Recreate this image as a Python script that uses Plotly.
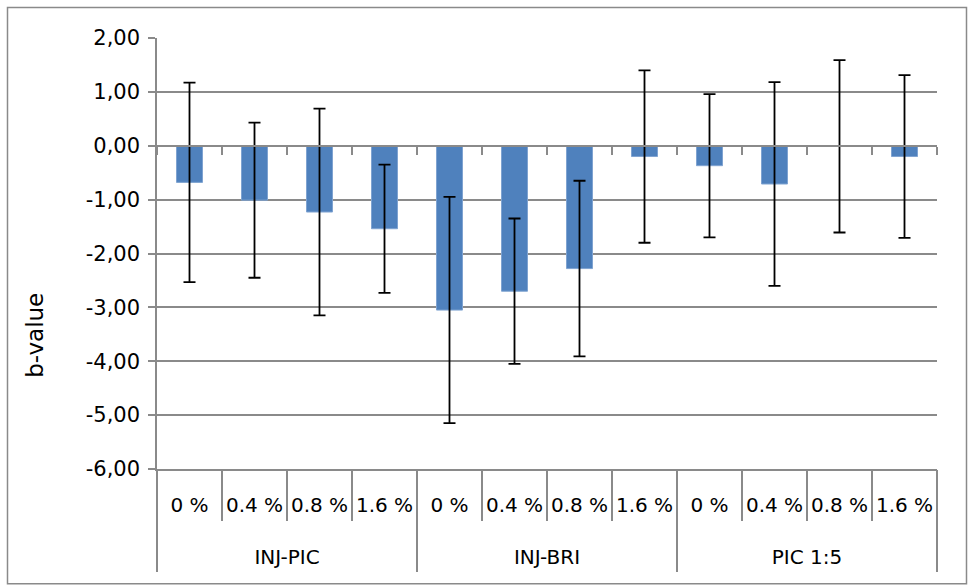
import plotly.graph_objects as go

groups = ["INJ-PIC", "INJ-BRI", "PIC 1:5"]
concentrations = ["0 %", "0.4 %", "0.8 %", "1.6 %"] * 3
b_values = [-0.68, -1.01, -1.23, -1.54, -3.05, -2.70, -2.28, -0.20, -0.37, -0.71, -0.01, -0.20]
errors = [1.85, 1.44, 1.92, 1.19, 2.10, 1.35, 1.63, 1.60, 1.33, 1.89, 1.60, 1.51]
y_tick_vals = [2, 1, 0, -1, -2, -3, -4, -5, -6]
y_tick_text = ["2,00", "1,00", "0,00", "-1,00", "-2,00", "-3,00", "-4,00", "-5,00", "-6,00"]

FONT = "DejaVu Sans"
GRID = "#8a8a8a"
LW = 1.5

n = len(b_values)
pos = list(range(n))
xr = [-0.5, n - 0.5]
group_centers = [1.5, 5.5, 9.5]

fig = go.Figure()
fig.add_trace(go.Bar(
    x=pos, y=b_values,
    marker=dict(color="#4F81BD", line=dict(color="#7FA3D1", width=1)),
    error_y=dict(type="data", array=errors, visible=True, color="black", thickness=1.8, width=6),
    showlegend=False, hoverinfo="skip",
))
# invisible helpers so the overlay axes are drawn
for ax in ["x2", "x3"]:
    fig.add_trace(go.Scatter(x=xr, y=[0, 0], xaxis=ax, mode="markers",
                             marker=dict(opacity=0), showlegend=False, hoverinfo="skip"))

fig.update_layout(
    width=968, height=585,
    margin=dict(l=157, r=31, t=38, b=116),
    paper_bgcolor="white", plot_bgcolor="white",
    font=dict(family=FONT, size=20, color="black"),
    bargap=0.6,
    yaxis=dict(
        range=[-6, 2], tickvals=y_tick_vals, ticktext=y_tick_text,
        showgrid=True, gridcolor=GRID, gridwidth=LW,
        showline=True, linecolor=GRID, linewidth=LW,
        ticks="outside", ticklen=7, tickcolor=GRID, tickwidth=LW,
        zeroline=False, tickfont=dict(size=21), ticklabelstandoff=4,
    ),
    # concentration labels + short category separators
    xaxis=dict(
        range=xr, tickvals=pos, ticktext=concentrations,
        ticks="", showgrid=False, zeroline=False,
        showline=True, linecolor=GRID, linewidth=LW,
        ticklabelstandoff=17,
        minor=dict(tick0=0.5, dtick=1, ticks="outside", ticklen=50,
                   tickcolor=GRID, tickwidth=LW, showgrid=False),
        tickfont=dict(size=20),
    ),
    # group labels + long group separators
    xaxis2=dict(
        range=xr, overlaying="x", anchor="free", position=0,
        tickvals=group_centers, ticktext=groups,
        ticks="", showgrid=False, zeroline=False, showline=False,
        ticklabelstandoff=74,
        minor=dict(tick0=-0.5, dtick=4, ticks="outside", ticklen=102,
                   tickcolor=GRID, tickwidth=LW, showgrid=False),
        tickfont=dict(size=20),
    ),
    # axis through zero with small boundary ticks
    xaxis3=dict(
        range=xr, overlaying="x", anchor="free", position=0.75,
        showticklabels=False, ticks="", showgrid=False, zeroline=False,
        showline=True, linecolor=GRID, linewidth=LW,
        minor=dict(tick0=0.5, dtick=1, ticks="outside", ticklen=8,
                   tickcolor=GRID, tickwidth=LW, showgrid=False),
    ),
    annotations=[dict(text="b-value", textangle=-90, xref="paper", yref="paper",
                      x=(35 - 157) / 780, y=1 - (336 - 38.5) / 430.5,
                      xanchor="center", yanchor="middle", showarrow=False,
                      font=dict(size=23))],
    shapes=[dict(type="rect", xref="paper", yref="paper",
                 x0=(7.5 - 157) / 780, x1=(966.5 - 157) / 780,
                 y0=1 - (583.5 - 38.5) / 430.5, y1=1 + (38.5 - 8) / 430.5,
                 line=dict(color=GRID, width=LW), fillcolor="rgba(0,0,0,0)", layer="below")],
)

fig.write_html("out.html", config={"displayModeBar": False},
               post_script="document.body.style.margin='0px';")
